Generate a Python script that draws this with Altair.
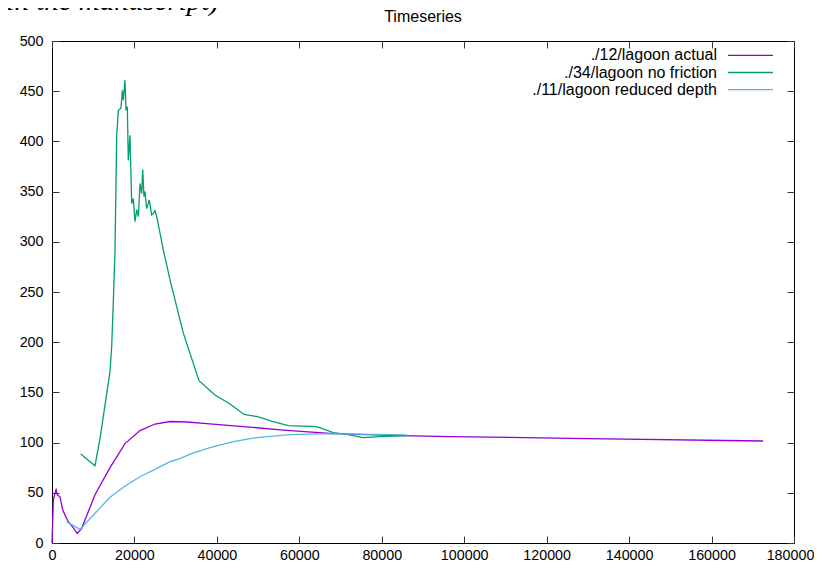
import altair as alt
import pandas as pd

# ---- data ----
series_names = ["./12/lagoon actual", "./34/lagoon no friction", "./11/lagoon reduced depth"]
series_colors = ["#9400d3", "#009e73", "#56b4e9"]

actual_t = [0, 330, 730, 1000, 1290, 1940, 2590, 3150, 3960, 5000, 6140, 7200, 10430,
            14070, 17710, 21350, 24990, 28630, 32670, 37530, 46410, 56110, 68240,
            84420, 96550, 130000, 172490]
actual_v = [0, 43, 49.5, 53, 48, 46, 33, 28, 21, 16, 9.6, 14.6, 48,
            75, 99, 112, 118.5, 121, 120.5, 119, 116, 112.5, 109,
            107, 106, 104, 101.6]

nofric_t = [6960, 10430, 11640, 14070, 14480, 14890, 15280, 15690, 16100, 16740, 17060,
            17300, 17710, 17950, 18270, 18510, 18920, 19340, 19720, 20140, 20550, 20950,
            21350, 21760, 22000, 22320, 22560, 22970, 23600, 24180, 24580, 24990, 25400,
            27000, 28630, 31860, 35660, 39540, 43180, 46580, 49660, 53690, 57330, 64210,
            68240, 71500, 75520, 79570, 86050]
nofric_v = [88.6, 77, 104, 170.6, 195.5, 242, 290, 405, 431, 433, 451,
            441, 461, 431, 434.6, 381, 406, 338, 343, 320, 332, 325,
            358, 348, 372, 345, 350, 333, 341.6, 326.7, 328, 331, 325,
            292, 262, 209, 161.7, 147.4, 138.4, 128, 126, 121, 117, 116,
            110, 108.2, 105, 106, 107]

reduced_t = [3560, 6790, 10430, 14070, 18110, 21350, 24990, 28630, 31050, 33480, 38330,
             43990, 49660, 56930, 63400, 69870, 86050]
reduced_v = [21, 13.6, 29.6, 45.5, 57.8, 66, 73.4, 81, 84, 88.6, 95,
             101, 105, 107.6, 108.6, 108.6, 107.6]

x_ticks = [0, 20000, 40000, 60000, 80000, 100000, 120000, 140000, 160000, 180000]
y_ticks = [0, 50, 100, 150, 200, 250, 300, 350, 400, 450, 500]

title_text = "Timeseries"
note_text = "(in the manuscript)"

# ---- chart ----
W, H = 742, 502
FONT = "Liberation Sans"

x_scale = alt.Scale(domain=[0, 180000], nice=False, zero=False)
y_scale = alt.Scale(domain=[0, 500], nice=False, zero=False)

axis_common = dict(domain=False, grid=False, tickSize=7, offset=-7, tickColor="#333333",
                   tickWidth=1, labelFont=FONT, labelFontSize=14.3, labelColor="black",
                   labelFlush=False, labelOverlap=False, title=None, format="d")

series_data = [
    pd.DataFrame({"t": actual_t, "v": actual_v}),
    pd.DataFrame({"t": nofric_t, "v": nofric_v}),
    pd.DataFrame({"t": reduced_t, "v": reduced_v}),
]

last_x = x_ticks[-1]

layers = []
for i, (d, name, col) in enumerate(zip(series_data, series_names, series_colors)):
    if i == 0:
        xa = alt.Axis(
            values=x_ticks, orient="bottom", labelPadding=5,
            labelOffset={"condition": {"test": f"datum.value == {last_x}", "value": -4},
                         "value": 0},
            **axis_common)
        ya = alt.Axis(values=y_ticks, orient="left", labelPadding=9, **axis_common)
    elif i == 1:
        xa = alt.Axis(values=x_ticks, orient="top", labels=False, **axis_common)
        ya = alt.Axis(values=y_ticks, orient="right", labels=False, **axis_common)
    else:
        xa = None
        ya = None
    layers.append(
        alt.Chart(d).mark_line(color=col, strokeWidth=1.3).encode(
            x=alt.X("t:Q", scale=x_scale, axis=xa),
            y=alt.Y("v:Q", scale=y_scale, axis=ya),
        )
    )

# gnuplot-style key: label right-aligned, line sample to its right
for i, (name, col) in enumerate(zip(series_names, series_colors)):
    ypos = 14.3 + 17.2 * i
    layers.append(
        alt.Chart(pd.DataFrame({"label": [name]})).mark_text(
            align="right", baseline="middle", font=FONT, fontSize=16, color="black"
        ).encode(text="label:N", x=alt.value(665), y=alt.value(ypos))
    )
    layers.append(
        alt.Chart(pd.DataFrame({"label": [name]})).mark_rule(color=col, strokeWidth=1.3).encode(
            x=alt.value(676), x2=alt.value(721), y=alt.value(ypos)
        )
    )

# chart title
layers.append(
    alt.Chart(pd.DataFrame({"label": [title_text]})).mark_text(
        align="center", baseline="alphabetic", font=FONT, fontSize=16, color="black"
    ).encode(text="label:N", x=alt.value(W / 2), y=alt.value(-19))
)

# partially visible caption text cut off at top of the image
layers.append(
    alt.Chart(pd.DataFrame({"label": [note_text]})).mark_text(
        align="right", baseline="alphabetic", font="Liberation Serif", fontStyle="italic",
        fontSize=29, color="black"
    ).encode(text="label:N", x=alt.value(167), y=alt.value(-31))
)

chart = alt.layer(*layers).resolve_axis(x="independent", y="independent").properties(
    width=W, height=H,
    autosize=alt.AutoSizeParams(type="none"),
    padding={"left": 44, "top": 33, "right": 20, "bottom": 24},
).configure_view(stroke="black", strokeWidth=1)

chart.save("out.html", embed_options={"renderer": "svg", "actions": False})
